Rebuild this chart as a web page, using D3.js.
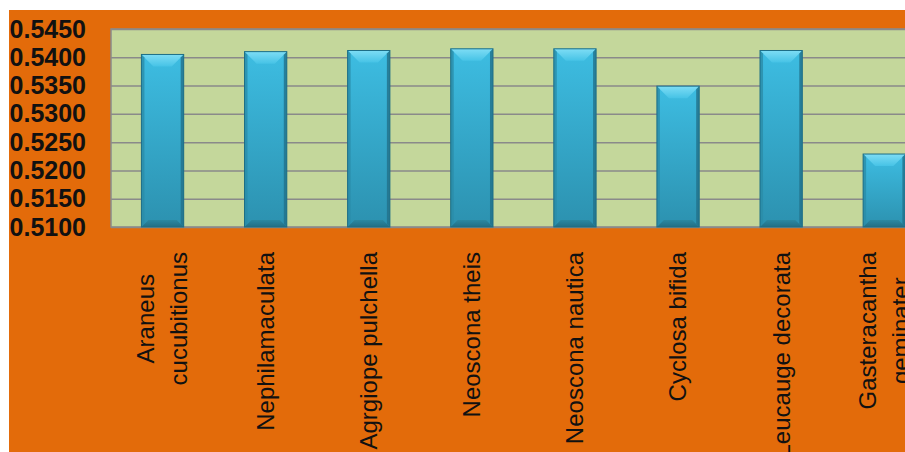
<!DOCTYPE html>
<html>
<head>
<meta charset="utf-8">
<script src="https://cdn.jsdelivr.net/npm/d3@7"></script>
<style>
  html, body { margin: 0; padding: 0; background: #fff; }
  svg { display: block; }
</style>
</head>
<body>
<script>
const species = [
    ["Araneus", "cucubitionus"],
    ["Nephilamaculata"],
    ["Agrgiope pulchella"],
    ["Neoscona theis"],
    ["Neoscona nautica"],
    ["Cyclosa bifida"],
    ["Leucauge decorata"],
    ["Gasteracantha", "geminater"]
];
const values = [0.5405, 0.5410, 0.5412, 0.5415, 0.5415, 0.5349, 0.5412, 0.5229];
const yTicks = [0.5100, 0.5150, 0.5200, 0.5250, 0.5300, 0.5350, 0.5400, 0.5450];

const width = 905;
const height = 452;
const plotLeft = 111, plotTop = 29, plotBottom = 227;
const keys = species.map(d => d.join(" "));

const svg = d3.select("body")
    .append("svg")
    .attr("width", width)
    .attr("height", height);

// orange chart background
svg.append("rect")
    .attr("x", 9).attr("y", 10)
    .attr("width", width - 9).attr("height", height - 10)
    .attr("fill", "#E36B0A");

const x = d3.scaleBand()
    .domain(keys)
    .range([plotLeft, plotLeft + 8 * 103.1])
    .paddingInner(0.59)
    .paddingOuter(0.295);

const y = d3.scaleLinear()
    .domain([0.51, 0.545])
    .range([plotBottom, plotTop]);

// plot area
svg.append("rect")
    .attr("x", plotLeft).attr("y", plotTop)
    .attr("width", width - plotLeft + 5).attr("height", plotBottom - plotTop)
    .attr("fill", "#C4D79B")
    .attr("stroke", "#8a8a8a")
    .attr("stroke-width", 1.5);

// gridlines
svg.append("g")
    .attr("transform", `translate(${plotLeft},0)`)
    .call(d3.axisLeft(y).tickValues(yTicks).tickSize(-(width - plotLeft)).tickFormat(""))
    .call(g => g.select(".domain").remove())
    .call(g => g.selectAll("line").attr("stroke", "#8a8a8a").attr("stroke-width", 1.5));

// y labels
svg.append("g")
    .attr("transform", `translate(${plotLeft},0)`)
    .call(d3.axisLeft(y).tickValues(yTicks).tickSize(0).tickPadding(25).tickFormat(d3.format(".4f")))
    .call(g => g.select(".domain").remove())
    .call(g => g.selectAll("text")
        .attr("fill", "#111")
        .style("font-family", "'Liberation Sans', Arial, sans-serif")
        .style("font-weight", "bold")
        .style("font-size", "25px"));

// gradients
const defs = svg.append("defs");
function vgrad(id, stops) {
    const g = defs.append("linearGradient").attr("id", id)
        .attr("x1", 0).attr("y1", 0).attr("x2", 0).attr("y2", 1);
    stops.forEach(s => g.append("stop").attr("offset", s[0]).attr("stop-color", s[1]));
}
vgrad("barBody", [[0, "#3DBDE2"], [1, "#2C91AF"]]);
vgrad("barTop", [[0, "#7EDDF5"], [1, "#46C3E6"]]);
vgrad("barBottom", [[0, "#2A869F"], [1, "#21687C"]]);

const bars = svg.append("g").selectAll("g")
    .data(values.map((v, i) => ({ key: keys[i], value: v })))
    .enter().append("g");

const bw = x.bandwidth();
const bev = 12, side = 3, bot = 7;

bars.append("rect")
    .attr("x", d => x(d.key))
    .attr("y", d => y(d.value))
    .attr("width", bw)
    .attr("height", d => y(0.51) - y(d.value))
    .attr("fill", "url(#barBody)");

// top bevel
bars.append("path")
    .attr("fill", "url(#barTop)")
    .attr("d", d => {
        const x0 = x(d.key), x1 = x0 + bw, t = y(d.value);
        return `M${x0},${t}L${x1},${t}L${x1 - bev},${t + bev}L${x0 + bev},${t + bev}Z`;
    });

// side bevels
bars.append("path")
    .attr("fill", "#2A8CA8")
    .attr("opacity", 0.8)
    .attr("d", d => {
        const x0 = x(d.key), t = y(d.value), b = y(0.51);
        return `M${x0},${t}L${x0 + side},${t + side}L${x0 + side},${b - side}L${x0},${b}Z`;
    });
bars.append("path")
    .attr("fill", "#22718A")
    .attr("opacity", 0.8)
    .attr("d", d => {
        const x1 = x(d.key) + bw, t = y(d.value), b = y(0.51);
        return `M${x1},${t}L${x1 - side},${t + side}L${x1 - side},${b - side}L${x1},${b}Z`;
    });

// bottom bevel
bars.append("path")
    .attr("fill", "url(#barBottom)")
    .attr("opacity", 0.85)
    .attr("d", d => {
        const x0 = x(d.key), x1 = x0 + bw, b = y(0.51);
        return `M${x0},${b}L${x1},${b}L${x1 - bot},${b - bot}L${x0 + bot},${b - bot}Z`;
    });

bars.append("rect")
    .attr("x", d => x(d.key))
    .attr("y", d => y(d.value))
    .attr("width", bw)
    .attr("height", d => y(0.51) - y(d.value))
    .attr("fill", "none")
    .attr("stroke", "#1E6E86")
    .attr("stroke-width", 1);

// category labels, rotated, block right-aligned at top
const labelTop = 252, lineGap = 33;
const labels = svg.append("g").selectAll("g")
    .data(species)
    .enter().append("g")
    .attr("transform", (d, i) => `translate(${x(keys[i]) + bw / 2},${labelTop}) rotate(-90)`);

labels.each(function (lines) {
    const g = d3.select(this);
    const n = lines.length;
    const texts = lines.map((line, j) => g.append("text")
        .attr("y", (j - (n - 1) / 2) * lineGap)
        .attr("dy", "0.35em")
        .attr("text-anchor", "middle")
        .attr("fill", "#111")
        .style("font-family", "'Liberation Sans', Arial, sans-serif")
        .style("font-size", "24px")
        .text(line));
    const maxLen = d3.max(texts, t => t.node().getComputedTextLength());
    texts.forEach(t => t.attr("x", -maxLen / 2));
});
</script>
</body>
</html>
